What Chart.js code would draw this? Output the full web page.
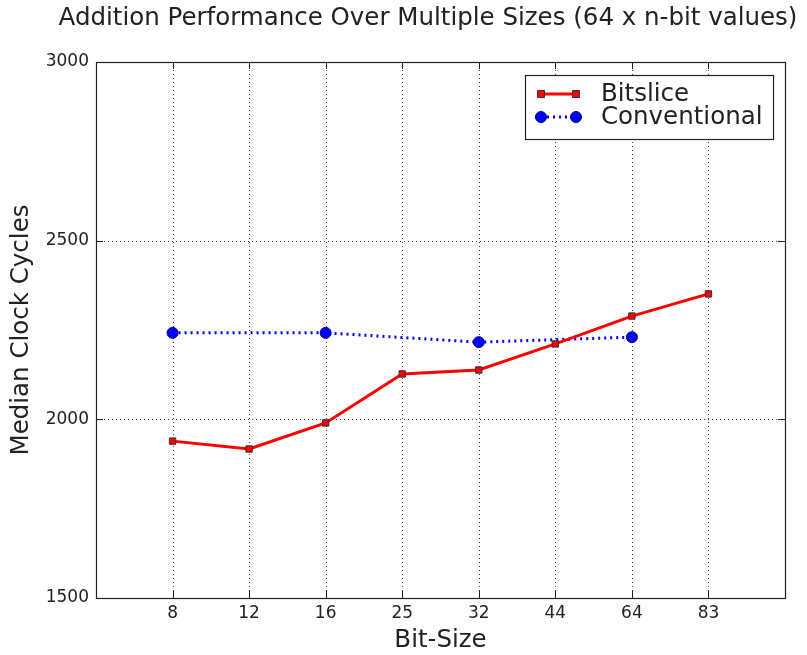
<!DOCTYPE html>
<html>
<head>
<meta charset="utf-8">
<script src="https://cdn.jsdelivr.net/npm/chart.js@4.4.0/dist/chart.umd.min.js"></script>
<style>
    html, body { margin: 0; padding: 0; background: #fff; }
    #wrap { width: 807px; height: 655px; }
</style>
</head>
<body>
<div id="wrap"><canvas id="chart" width="807" height="655"></canvas></div>
<script>
// Addition performance - median clock cycles per bit size

const sizeLabels = ['8', '12', '16', '25', '32', '44', '64', '83'];
const bitsliceCycles = [1939, 1917, 1990, 2127, 2138, 2211, 2289, 2351];
const convSizes = ['8', '16', '32', '64'];
const conventionalCycles = [2242, 2242, 2216, 2230];
const yTicks = [1500, 2000, 2500, 3000];

const TITLE = 'Addition Performance Over Multiple Sizes (64 x n-bit values)';
const FONT = 'DejaVu Sans';
const TEXT = '#222';

function toPoints(labels, values) {
    return labels.map((l, i) => ({ x: sizeLabels.indexOf(l), y: values[i] }));
}

// grid, frame and inward ticks like the classic matplotlib look
const framePlugin = {
    id: 'frame',
    beforeDatasetsDraw(chart) {
        const ctx = chart.ctx;
        const a = chart.chartArea;
        const xs = chart.scales.x;
        const ys = chart.scales.y;
        ctx.save();
        ctx.strokeStyle = '#444';
        ctx.lineWidth = 1;
        ctx.setLineDash([1, 3]);
        sizeLabels.forEach((l, i) => {
            const px = Math.round(xs.getPixelForValue(i)) + 0.5;
            ctx.beginPath();
            ctx.moveTo(px, a.top);
            ctx.lineTo(px, a.bottom);
            ctx.stroke();
        });
        yTicks.forEach(v => {
            const py = Math.round(ys.getPixelForValue(v)) + 0.5;
            if (v === 1500 || v === 3000) return;
            ctx.beginPath();
            ctx.moveTo(a.left, py);
            ctx.lineTo(a.right, py);
            ctx.stroke();
        });
        ctx.restore();
    },
    afterDatasetsDraw(chart) {
        const ctx = chart.ctx;
        const a = chart.chartArea;
        const xs = chart.scales.x;
        const ys = chart.scales.y;
        ctx.save();
        ctx.strokeStyle = '#222';
        ctx.lineWidth = 1.2;
        ctx.strokeRect(Math.round(a.left) + 0.5, Math.round(a.top) + 0.5,
            Math.round(a.right - a.left), Math.round(a.bottom - a.top));
        ctx.lineWidth = 1;
        sizeLabels.forEach((l, i) => {
            const px = Math.round(xs.getPixelForValue(i)) + 0.5;
            ctx.beginPath();
            ctx.moveTo(px, a.bottom); ctx.lineTo(px, a.bottom - 7);
            ctx.moveTo(px, a.top); ctx.lineTo(px, a.top + 7);
            ctx.stroke();
        });
        yTicks.forEach(v => {
            const py = Math.round(ys.getPixelForValue(v)) + 0.5;
            ctx.beginPath();
            ctx.moveTo(a.left, py); ctx.lineTo(a.left + 7, py);
            ctx.moveTo(a.right, py); ctx.lineTo(a.right - 7, py);
            ctx.stroke();
        });
        ctx.restore();
    },
    afterDraw(chart) {
        const ctx = chart.ctx;
        ctx.save();
        // title
        ctx.fillStyle = TEXT;
        ctx.font = '24.5px "' + FONT + '"';
        ctx.textAlign = 'center';
        ctx.textBaseline = 'middle';
        ctx.fillText(TITLE, 428, 19);

        // legend box in the upper right corner
        const bx = 525.5, by = 75.5, bw = 248, bh = 64;
        ctx.fillStyle = '#fff';
        ctx.fillRect(bx, by, bw, bh);
        ctx.strokeStyle = '#222';
        ctx.lineWidth = 1.2;
        ctx.strokeRect(bx, by, bw, bh);

        const rows = [
            { y: 94, ds: chart.data.datasets[0] },
            { y: 117, ds: chart.data.datasets[1] }
        ];
        rows.forEach(r => {
            const ds = r.ds;
            ctx.strokeStyle = ds.borderColor;
            ctx.lineWidth = ds.borderWidth;
            ctx.setLineDash(ds.borderDash || []);
            ctx.beginPath();
            ctx.moveTo(541, r.y);
            ctx.lineTo(576, r.y);
            ctx.stroke();
            ctx.setLineDash([]);
            [541, 576].forEach(mx => {
                ctx.fillStyle = ds.pointBackgroundColor;
                ctx.strokeStyle = ds.pointBorderColor;
                ctx.lineWidth = 1;
                ctx.beginPath();
                if (ds.pointStyle === 'rect') {
                    ctx.rect(mx - 3.5, r.y - 3.5, 7, 7);
                } else {
                    ctx.arc(mx, r.y, ds.pointRadius, 0, Math.PI * 2);
                }
                ctx.fill();
                ctx.stroke();
            });
            ctx.fillStyle = TEXT;
            ctx.font = '24.5px "' + FONT + '"';
            ctx.textBaseline = 'middle';
            ctx.textAlign = 'left';
            ctx.fillText(ds.label, 601, r.y + 1);
        });
        ctx.restore();
    }
};

new Chart(document.getElementById('chart'), {
    type: 'line',
    data: {
        datasets: [
            {
                label: 'Bitslice',
                data: toPoints(sizeLabels, bitsliceCycles),
                borderColor: '#ff0000',
                borderWidth: 3,
                pointStyle: 'rect',
                pointRadius: 4.5,
                pointBackgroundColor: '#ff0000',
                pointBorderColor: '#333',
                pointBorderWidth: 1,
                tension: 0
            },
            {
                label: 'Conventional',
                data: toPoints(convSizes, conventionalCycles),
                borderColor: '#0000ff',
                borderWidth: 3,
                borderDash: [2, 4],
                pointStyle: 'circle',
                pointRadius: 5.5,
                pointBackgroundColor: '#0000ff',
                pointBorderColor: '#000080',
                pointBorderWidth: 1,
                tension: 0
            }
        ]
    },
    options: {
        responsive: false,
        animation: false,
        layout: { padding: { top: 62, right: 22, bottom: 0, left: 0 } },
        plugins: {
            legend: { display: false },
            tooltip: { enabled: false },
            title: { display: false }
        },
        scales: {
            x: {
                type: 'linear',
                min: -1,
                max: 8,
                afterBuildTicks: s => { s.ticks = sizeLabels.map((l, i) => ({ value: i })); },
                afterFit: s => { s.height = 57; },
                grid: { display: false, drawTicks: false },
                border: { display: false },
                ticks: {
                    color: TEXT,
                    padding: 5,
                    maxRotation: 0,
                    font: { family: FONT, size: 17 },
                    callback: v => sizeLabels[v]
                },
                title: {
                    display: true,
                    text: 'Bit-Size',
                    color: TEXT,
                    font: { family: FONT, size: 24.5 },
                    padding: { top: 0, bottom: 0 }
                }
            },
            y: {
                min: 1500,
                max: 3000,
                afterBuildTicks: s => { s.ticks = yTicks.map(v => ({ value: v })); },
                afterFit: s => { s.width = 96; },
                grid: { display: false, drawTicks: false },
                border: { display: false },
                ticks: {
                    color: TEXT,
                    padding: 7,
                    font: { family: FONT, size: 17 },
                    callback: v => String(v)
                },
                title: {
                    display: true,
                    text: 'Median Clock Cycles',
                    color: TEXT,
                    font: { family: FONT, size: 24.5 },
                    padding: { top: 7, bottom: 0 }
                }
            }
        }
    },
    plugins: [framePlugin]
});
</script>
</body>
</html>
